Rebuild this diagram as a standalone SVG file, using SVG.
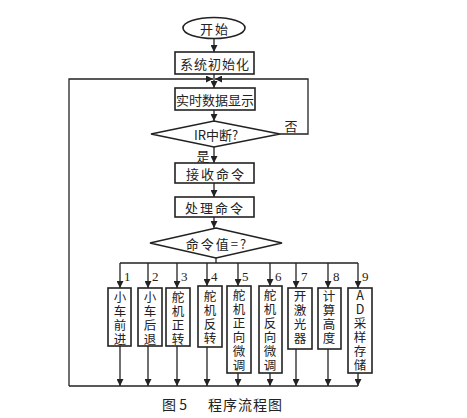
<svg xmlns="http://www.w3.org/2000/svg" width="467" height="418" viewBox="0 0 467 418">
<defs>
<marker id="ah" viewBox="0 0 10 10" refX="10" refY="5" markerWidth="7" markerHeight="7" markerUnits="userSpaceOnUse" orient="auto"><path d="M0,0 L10,5 L0,10 z" fill="#222"/></marker>
<style>
.n{fill:#fff;stroke:#222;stroke-width:1.6}
.t{font-family:"Noto Sans CJK SC","Liberation Serif",serif;font-size:13px;fill:#222;text-anchor:middle;dominant-baseline:central}
.v{font-family:"Noto Sans CJK SC","Liberation Serif",serif;font-size:12.5px;fill:#222;writing-mode:vertical-rl;text-orientation:upright;letter-spacing:1.6px}
.num{font-family:"Liberation Serif",serif;font-size:13px;fill:#222}
.c{fill:none;stroke:#222;stroke-width:1.3}
.a{fill:none;stroke:#222;stroke-width:1.3;marker-end:url(#ah)}
</style>
</defs>
<rect width="467" height="418" fill="#fff"/>
<g id="connectors">
<path class="a" d="M214,38 V52"/>
<path class="a" d="M214,74 V88"/>
<path class="a" d="M69,386 V79 H213"/>
<path class="a" d="M280,134 H308 V79 H215"/>
<path class="a" d="M214,110 V121"/>
<path class="a" d="M214,147 V163"/>
<path class="a" d="M214,183 V197"/>
<path class="a" d="M214,217 V228"/>
<path class="c" d="M216,258 V263 M120,263 H358"/>
<path class="a" d="M120,263 V288"/>
<path class="a" d="M148,263 V288"/>
<path class="a" d="M177,263 V288"/>
<path class="a" d="M207,263 V286"/>
<path class="a" d="M238,263 V286"/>
<path class="a" d="M270,263 V286"/>
<path class="a" d="M296,263 V288"/>
<path class="a" d="M328,263 V288"/>
<path class="a" d="M358,263 V288"/>
<path class="c" d="M69,386 H358"/>
<path class="a" d="M120,346 V386"/>
<path class="a" d="M148,346 V386"/>
<path class="a" d="M177,346 V386"/>
<path class="a" d="M207,347 V386"/>
<path class="a" d="M238,373 V386"/>
<path class="a" d="M270,373 V386"/>
<path class="a" d="M296,349 V386"/>
<path class="a" d="M328,349 V386"/>
<path class="a" d="M358,373 V386"/>
<text class="t" x="291" y="125">否</text>
<text class="t" x="203" y="155">是</text>
<text class="num" x="124" y="281">1</text>
<text class="num" x="152" y="281">2</text>
<text class="num" x="181" y="281">3</text>
<text class="num" x="211" y="281">4</text>
<text class="num" x="242" y="281">5</text>
<text class="num" x="275" y="281">6</text>
<text class="num" x="301" y="281">7</text>
<text class="num" x="333" y="281">8</text>
<text class="num" x="362" y="281">9</text>
</g>
<g id="start"><ellipse class="n" cx="214" cy="28" rx="31" ry="10.5"/><text class="t" x="215" y="28" letter-spacing="2">开始</text></g>
<g id="init"><rect class="n" x="175" y="52" width="79" height="22"/><text class="t" x="215" y="63" letter-spacing="1">系统初始化</text></g>
<g id="display"><rect class="n" x="175" y="88" width="80" height="22"/><text class="t" x="215" y="99">实时数据显示</text></g>
<g id="ir"><polygon class="n" points="214,121 280,134 214,147 151,134"/><text class="t" x="216" y="134">IR中断?</text></g>
<g id="recv"><rect class="n" x="175" y="163" width="79" height="20"/><text class="t" x="216" y="173" letter-spacing="2">接收命令</text></g>
<g id="proc"><rect class="n" x="175" y="197" width="79" height="20"/><text class="t" x="215" y="207" letter-spacing="2">处理命令</text></g>
<g id="cmd"><polygon class="n" points="216,228 282,243 216,258 150,243"/><text class="t" x="217" y="243" letter-spacing="2">命令值=?</text></g>
<g id="b1"><rect class="n" x="108" y="288" width="23" height="58"/><text class="v" x="120" y="291">小车前进</text></g>
<g id="b2"><rect class="n" x="138" y="288" width="24" height="58"/><text class="v" x="150" y="291">小车后退</text></g>
<g id="b3"><rect class="n" x="166" y="288" width="24" height="58"/><text class="v" x="178" y="291">舵机正转</text></g>
<g id="b4"><rect class="n" x="198" y="286" width="24" height="61"/><text class="v" x="210" y="290">舵机反转</text></g>
<g id="b5"><rect class="n" x="227" y="286" width="24" height="87"/><text class="v" x="239" y="289">舵机正向微调</text></g>
<g id="b6"><rect class="n" x="259" y="286" width="23" height="87"/><text class="v" x="270" y="289">舵机反向微调</text></g>
<g id="b7"><rect class="n" x="288" y="288" width="24" height="61"/><text class="v" x="300" y="290">开激光器</text></g>
<g id="b8"><rect class="n" x="318" y="288" width="23" height="61"/><text class="v" x="329" y="290">计算高度</text></g>
<g id="b9"><rect class="n" x="348" y="288" width="24" height="85"/><text class="v" x="360" y="289">AD采样存储</text></g>
<g id="caption" font-family="Noto Sans CJK SC, Liberation Serif, serif" font-size="14" fill="#222" dominant-baseline="central">
<text x="162" y="404">图 5</text>
<text x="208" y="404" letter-spacing="1">程序流程图</text>
</g>
</svg>
